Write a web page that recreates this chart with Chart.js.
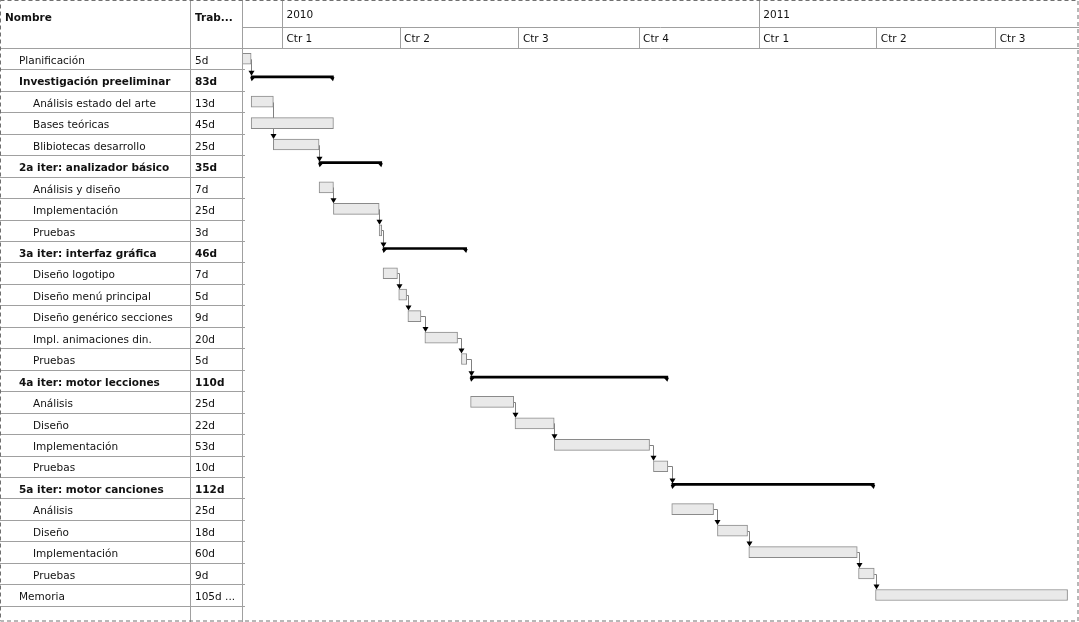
<!DOCTYPE html>
<html><head><meta charset="utf-8">
<script src="https://cdn.jsdelivr.net/npm/chart.js@4/dist/chart.umd.min.js"></script>
<style>html,body{margin:0;padding:0;background:#fff;overflow:hidden}canvas{display:block}</style>
</head><body>
<canvas id="c" width="1079" height="622"></canvas>
<script>
// ---- data (days counted from 1 Jan 2010) ----
const taskNames = ['Planificación','Investigación preeliminar','Análisis estado del arte','Bases teóricas','Blibiotecas desarrollo',
  '2a iter: analizador básico','Análisis y diseño','Implementación','Pruebas',
  '3a iter: interfaz gráfica','Diseño logotipo','Diseño menú principal','Diseño genérico secciones','Impl. animaciones din.','Pruebas',
  '4a iter: motor lecciones','Análisis','Diseño','Implementación','Pruebas',
  '5a iter: motor canciones','Análisis','Diseño','Implementación','Pruebas',
  'Memoria',''];
const workLabels = ['5d','83d','13d','45d','25d','35d','7d','25d','3d','46d','7d','5d','9d','20d','5d','110d','25d','22d','53d','10d','112d','25d','18d','60d','9d','105d ...',''];
const indentLevels = [1,1,2,2,2,1,2,2,2,1,2,2,2,2,2,1,2,2,2,2,1,2,2,2,2,1,0];
const isSummary = [false,true,false,false,false,true,false,false,false,true,false,false,false,false,false,true,false,false,false,false,true,false,false,false,false,false,false];
const startDays = [-31,-24,-24,-24,-7,28,28,39,74,77,77,89,96,109,137,144,144,178,208,284,298,298,333,357,441,454,null];
const endDays   = [-24, 39, -7, 39,28,76,39,74,76,141,88,95,106,134,141,295,177,208,281,295,453,330,356,440,453,601,null];
const dependencies = [[0,1],[2,4],[4,5],[6,7],[7,8],[8,9],[10,11],[11,12],[12,13],[13,14],[14,15],[16,17],[17,18],[18,19],[19,20],[21,22],[22,23],[23,24],[24,25]];
const quarterTicks = [0,90,181,273,365,455,546];
const quarterLabels = ['Ctr 1','Ctr 2','Ctr 3','Ctr 4','Ctr 1','Ctr 2','Ctr 3'];
const yearTicks = [0,365];
const yearLabels = ['2010','2011'];
const headerNombre = 'Nombre';
const headerTrabajo = 'Trab...';

const FONT = 'DejaVu Sans';
const LINE = '#a0a0a0';

const taskData = [], summaryData = [];
taskNames.forEach((n,i)=>{
  if (startDays[i]===null) return;
  (isSummary[i] ? summaryData : taskData).push({x:[startDays[i], endDays[i]], y:i});
});

function rowGeom(chart,i){
  const xs = chart.scales.x;
  const sum = isSummary[i];
  const yc = (sum ? chart.scales.ys : chart.scales.y).getPixelForValue(i);
  const half = sum ? 1 : 5.5;
  return {x0:xs.getPixelForValue(startDays[i]), x1:xs.getPixelForValue(endDays[i]), yc, top:yc-half, bottom:yc+half};
}

const ganttPlugin = {
  id:'gantt',
  beforeDatasetsDraw(chart){
    const ctx = chart.ctx;
    ctx.save();
    ctx.strokeStyle = '#808080'; ctx.lineWidth = 1;
    dependencies.forEach(([a,b])=>{
      const p = rowGeom(chart,a), s = rowGeom(chart,b);
      const xv = Math.round(Math.max(s.x0, p.x1)) + 0.5;
      const yh = Math.round(p.yc) + 0.5;
      ctx.beginPath();
      ctx.moveTo(p.x1, yh); ctx.lineTo(xv, yh); ctx.lineTo(xv, s.top - 2);
      ctx.stroke();
    });
    ctx.restore();
  },
  afterDatasetsDraw(chart){
    const ctx = chart.ctx;
    ctx.save();
    ctx.fillStyle = '#000';
    taskNames.forEach((n,i)=>{
      if (!isSummary[i]) return;
      const g = rowGeom(chart,i);
      const yb = g.bottom - 0.5;
      ctx.beginPath(); ctx.moveTo(g.x0-1, yb); ctx.lineTo(g.x0+4, yb); ctx.lineTo(g.x0+0.5, yb+4); ctx.closePath(); ctx.fill();
      ctx.beginPath(); ctx.moveTo(g.x1+1, yb); ctx.lineTo(g.x1-4, yb); ctx.lineTo(g.x1-0.5, yb+4); ctx.closePath(); ctx.fill();
    });
    dependencies.forEach(([a,b])=>{
      const p = rowGeom(chart,a), s = rowGeom(chart,b);
      const xv = Math.round(Math.max(s.x0, p.x1)) + 0.5;
      ctx.beginPath(); ctx.moveTo(xv-3, s.top-5); ctx.lineTo(xv+3, s.top-5); ctx.lineTo(xv, s.top); ctx.closePath(); ctx.fill();
    });
    ctx.restore();
  },
  afterDraw(chart){
    const ctx = chart.ctx, ys = chart.scales.y, area = chart.chartArea;
    const W = chart.width, H = chart.height;
    const colX = 190.5, chartX = Math.round(area.left) + 0.5;
    ctx.save();
    ctx.strokeStyle = LINE; ctx.lineWidth = 1;
    ctx.beginPath();
    const hb = Math.round(area.top) + 0.5;
    ctx.moveTo(0, hb); ctx.lineTo(chartX, hb);
    for (let i=0;i<taskNames.length;i++){
      const yb = Math.round(ys.getPixelForValue(i+0.5)) + 0.5;
      if (yb > H) break;
      ctx.moveTo(0, yb); ctx.lineTo(chartX+2.5, yb);
    }
    ctx.moveTo(colX, 0); ctx.lineTo(colX, H);
    ctx.moveTo(chartX, 0); ctx.lineTo(chartX, H);
    ctx.stroke();
    ctx.fillStyle = '#111';
    ctx.textBaseline = 'alphabetic'; ctx.textAlign = 'left';
    ctx.font = 'bold 10.5px "' + FONT + '"';
    ctx.fillText(headerNombre, 5, 21);
    ctx.fillText(headerTrabajo, 195, 21);
    taskNames.forEach((n,i)=>{
      const y = ys.getPixelForValue(i) + 5.2;
      if (y > H + 10) return;
      ctx.font = (isSummary[i] ? 'bold ' : '') + '10.5px "' + FONT + '"';
      ctx.fillText(n, 5 + indentLevels[i]*14, y);
      ctx.fillText(workLabels[i], 195, y);
    });
    ctx.strokeStyle = '#707070';
    ctx.setLineDash([4,3]);
    ctx.strokeRect(0.5, 0.5, W-1.5, H-1.5);
    ctx.restore();
  }
};

const tickFont = {family: FONT, size: 10.5};
const hiddenY = (shift)=>({type:'linear', reverse:true, min:-0.5+shift, max:26.26+shift, display:false, offset:false, bounds:'data', grace:0, beginAtZero:false, grid:{offset:false}});
new Chart(document.getElementById('c'), {
  type:'bar',
  data:{datasets:[
    {label:'Tareas', data:taskData, xAxisID:'x', yAxisID:'y', grouped:false, backgroundColor:'#e9e9e9', borderColor:'#8a8a8a', borderWidth:1, borderSkipped:false, barThickness:11, maxBarThickness:11},
    {label:'Resumen', data:summaryData, xAxisID:'x', yAxisID:'ys', grouped:false, backgroundColor:'#000', borderWidth:0, barThickness:2, maxBarThickness:2}
  ]},
  options:{
    indexAxis:'y', responsive:false, animation:false,
    layout:{padding:{left:242, right:1, top:0, bottom:0}},
    plugins:{legend:{display:false}, tooltip:{enabled:false}},
    scales:{
      x:{type:'linear', position:'top', weight:0, min:-31, max:609, offset:false,
        afterBuildTicks:(s)=>{ s.ticks = quarterTicks.map(v=>({value:v})); },
        afterFit:(s)=>{ s.height = 21; },
        grid:{drawOnChartArea:false, drawTicks:true, tickLength:21, color:LINE},
        border:{display:true, color:LINE},
        ticks:{font:tickFont, color:'#111', align:'start', labelOffset:4, padding:-18.8, autoSkip:false, maxRotation:0,
          callback:(v)=>quarterLabels[quarterTicks.indexOf(v)]}},
      x2:{type:'linear', position:'top', weight:1, min:-31, max:609, offset:false,
        afterBuildTicks:(s)=>{ s.ticks = yearTicks.map(v=>({value:v})); },
        afterFit:(s)=>{ s.height = 27; },
        grid:{drawOnChartArea:false, drawTicks:true, tickLength:27, color:LINE},
        border:{display:true, color:LINE},
        ticks:{font:tickFont, color:'#111', align:'start', labelOffset:4, padding:-21.3, autoSkip:false, maxRotation:0,
          callback:(v)=>yearLabels[yearTicks.indexOf(v)]}},
      y: hiddenY(0),
      ys: hiddenY(0.154)
    }
  },
  plugins:[ganttPlugin]
});
</script>
</body></html>
